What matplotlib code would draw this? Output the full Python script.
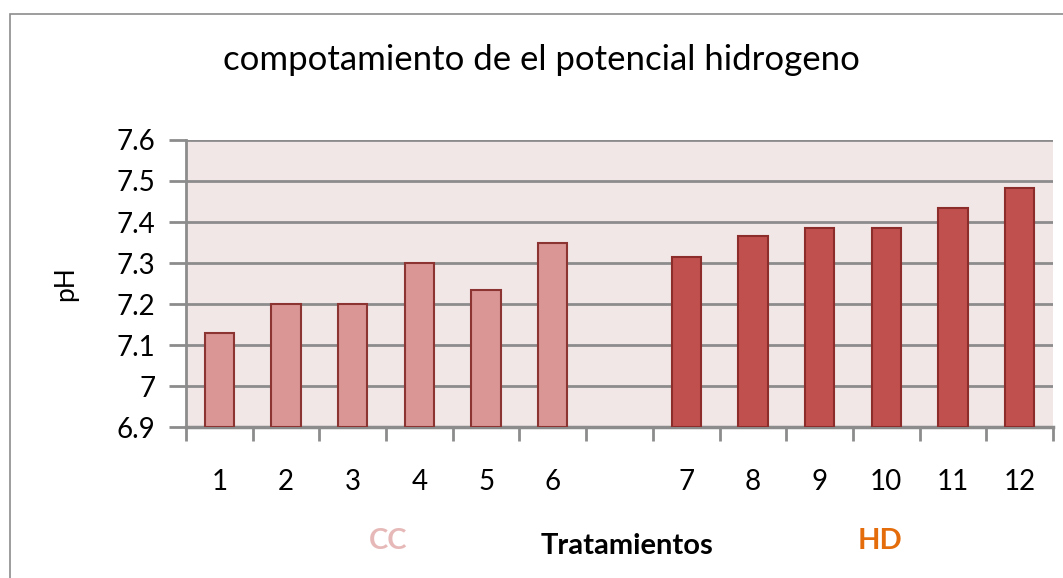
import matplotlib.pyplot as plt
from matplotlib.patches import Rectangle

# data
labels = ['1', '2', '3', '4', '5', '6', '', '7', '8', '9', '10', '11', '12']
cc_vals = [7.13, 7.20, 7.20, 7.30, 7.233, 7.35]
hd_vals = [7.315, 7.366, 7.385, 7.385, 7.434, 7.483]
y_ticks = [6.9, 7.0, 7.1, 7.2, 7.3, 7.4, 7.5, 7.6]
y_tick_labels = ['6.9', '7', '7.1', '7.2', '7.3', '7.4', '7.5', '7.6']

plt.rcParams['font.family'] = ['Lato', 'DejaVu Sans']

fig = plt.figure(figsize=(10.63, 5.78), dpi=100)
ax = fig.add_axes([0.175, 0.2612, 0.8156, 0.4966])

# outer chart frame
fig.patches.append(Rectangle((10 / 1063, -0.01), 1.1, 1 - 14 / 578 + 0.01,
                             transform=fig.transFigure, fill=False,
                             edgecolor='#8c8c8c', linewidth=1.2))

ax.set_facecolor('#f2e7e7')
cc_x = list(range(0, 6))
hd_x = list(range(7, 13))
ax.bar(cc_x, [v - 6.9 for v in cc_vals], bottom=6.9, width=0.44,
       color='#d99694', edgecolor='#8c3432', linewidth=1.5, zorder=3)
ax.bar(hd_x, [v - 6.9 for v in hd_vals], bottom=6.9, width=0.44,
       color='#c0504d', edgecolor='#8c2d2b', linewidth=1.5, zorder=3)

ax.set_xlim(-0.5, 12.5)
ax.set_ylim(6.9, 7.6)
ax.set_yticks(y_ticks)
ax.set_yticklabels(y_tick_labels, fontsize=20)
ax.yaxis.grid(True, color='#8c8c8c', linewidth=2, zorder=0)
ax.set_axisbelow(True)

# ticks on category boundaries, labels in category centres
ax.set_xticks([i - 0.5 for i in range(14)])
ax.set_xticklabels([])
ax.set_xticks(range(13), minor=True)
ax.set_xticklabels(labels, minor=True, fontsize=20)
ax.tick_params(axis='x', which='major', length=10, width=2, color='#8c8c8c')
ax.tick_params(axis='x', which='minor', length=0, pad=30)
ax.tick_params(axis='y', length=12, width=2, color='#8c8c8c', pad=10)

for side in ['top', 'right']:
    ax.spines[side].set_visible(False)
ax.spines['left'].set_color('#8c8c8c')
ax.spines['left'].set_linewidth(2)
ax.spines['bottom'].set_color('#8c8c8c')
ax.spines['bottom'].set_linewidth(2.5)

ax.set_ylabel('pH', fontsize=19, labelpad=28)

fig.text(541 / 1063, 1 - 60 / 578, 'compotamiento de el potencial hidrogeno',
         ha='center', va='center', fontsize=25)
fig.text(388 / 1063, 1 - 541 / 578, 'CC', ha='center', va='center',
         fontsize=21, fontweight='bold', color='#e6b9b8')
fig.text(627 / 1063, 1 - 546 / 578, 'Tratamientos', ha='center', va='center',
         fontsize=21, fontweight='bold', color='black')
fig.text(880 / 1063, 1 - 541 / 578, 'HD', ha='center', va='center',
         fontsize=21, fontweight='bold', color='#e46c0a')

fig.savefig('out.png', dpi=100)
